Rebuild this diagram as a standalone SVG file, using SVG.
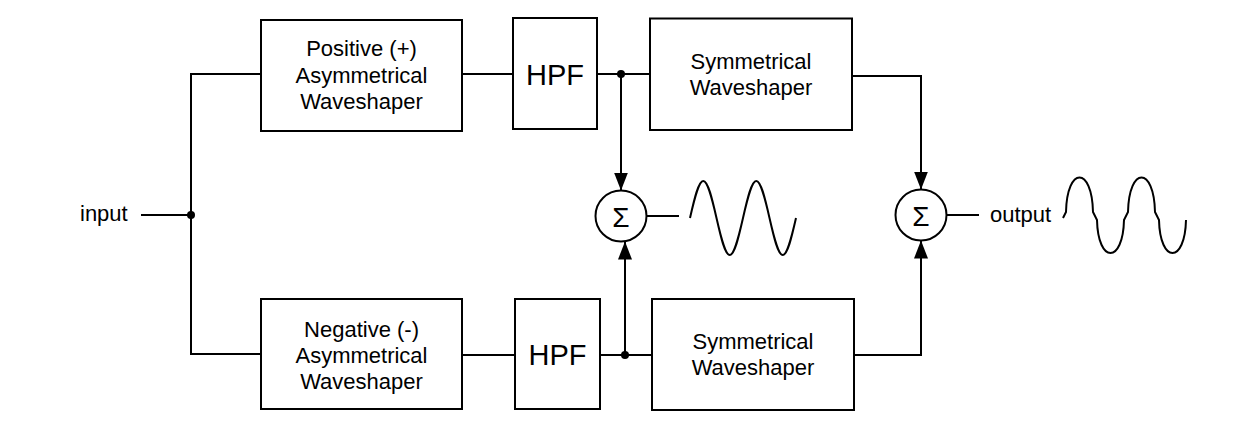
<svg xmlns="http://www.w3.org/2000/svg" width="1238" height="436" viewBox="0 0 1238 436">
<style>
.box{fill:#fff;stroke:#000;stroke-width:2}
.ln{fill:none;stroke:#000;stroke-width:2}
.t{font-family:"Liberation Sans",Arial,sans-serif;font-size:22px;fill:#000}
.c{text-anchor:middle}
.hpf{font-size:29px}
.sig{font-family:"Liberation Sans","DejaVu Sans",sans-serif;font-size:28px;text-anchor:middle;fill:#000}
.dot{fill:#000}
</style>
<defs>
<marker id="ah" markerUnits="userSpaceOnUse" markerWidth="18" markerHeight="14" refX="18" refY="7" orient="auto">
<path d="M0,0 L18,7 L0,14 z" fill="#000"/>
</marker>
</defs>
<rect width="1238" height="436" fill="#fff"/>
<g id="connectors">
<path class="ln" d="M141,215 H191"/>
<path class="ln" d="M261,74 H191 V354 H261"/>
<circle class="dot" cx="191" cy="215" r="4"/>
<path class="ln" d="M462,74 H513"/>
<path class="ln" d="M597,74 H650"/>
<circle class="dot" cx="621" cy="74" r="4"/>
<path class="ln" d="M621,74 V190.5" marker-end="url(#ah)"/>
<path class="ln" d="M852,76 H921 V189.5" marker-end="url(#ah)"/>
<path class="ln" d="M462,355 H515"/>
<path class="ln" d="M600,355 H652"/>
<circle class="dot" cx="625" cy="355" r="4"/>
<path class="ln" d="M625,355 V241.5" marker-end="url(#ah)"/>
<path class="ln" d="M854,355 H921 V240.5" marker-end="url(#ah)"/>
<path class="ln" d="M647,216 H679"/>
<path class="ln" d="M947,215 H979"/>
</g>
<g id="input"><text class="t" x="80" y="221">input</text></g>
<g id="pos-asym">
<rect class="box" x="261" y="20" width="201" height="111"/>
<text class="t c" x="361.5" y="56">Positive (+)</text>
<text class="t c" x="361.5" y="83">Asymmetrical</text>
<text class="t c" x="361.5" y="109">Waveshaper</text>
</g>
<g id="neg-asym">
<rect class="box" x="261" y="299" width="201" height="110"/>
<text class="t c" x="361.5" y="336.5">Negative (-)</text>
<text class="t c" x="361.5" y="363">Asymmetrical</text>
<text class="t c" x="361.5" y="389">Waveshaper</text>
</g>
<g id="hpf-top">
<rect class="box" x="513" y="18" width="84" height="111"/>
<text class="t c hpf" x="555" y="85">HPF</text>
</g>
<g id="hpf-bottom">
<rect class="box" x="515" y="299" width="85" height="110"/>
<text class="t c hpf" x="557.5" y="365">HPF</text>
</g>
<g id="sym-top">
<rect class="box" x="650" y="18.5" width="202" height="111.5"/>
<text class="t c" x="751" y="68.5">Symmetrical</text>
<text class="t c" x="751" y="94.5">Waveshaper</text>
</g>
<g id="sym-bottom">
<rect class="box" x="652" y="299" width="202" height="111"/>
<text class="t c" x="753" y="348.5">Symmetrical</text>
<text class="t c" x="753" y="375">Waveshaper</text>
</g>
<g id="sum1">
<circle cx="621" cy="216" r="25.5" fill="#fff" stroke="#000" stroke-width="2"/>
<text class="sig" x="621" y="226.5">Σ</text>
</g>
<g id="sum2">
<circle cx="921" cy="215" r="25.5" fill="#fff" stroke="#000" stroke-width="2"/>
<text class="sig" x="921" y="225.5">Σ</text>
</g>
<g id="wave1">
<path class="ln" d="M690,218 c4.32,-18.95 8.455,-37 13.25,-37 s8.93,18.05 13.25,37 s8.455,37 13.25,37 s8.93,-18.05 13.25,-37 s8.455,-37 13.25,-37 s8.93,18.05 13.25,37 s8.455,37 13.25,37 s8.93,-18.05 13.25,-37"/>
</g>
<g id="output">
<text class="t" x="990" y="222">output</text>
</g>
<g id="wave2">
<path class="ln" d="M1063,218 L1066,212 C1067,166 1092,166 1093,212 L1097,220 C1098,264 1123,264 1124,220 L1128,212 C1129,166 1154,166 1155,212 L1159,220 C1160,264 1185,264 1186,220"/>
</g>
</svg>
